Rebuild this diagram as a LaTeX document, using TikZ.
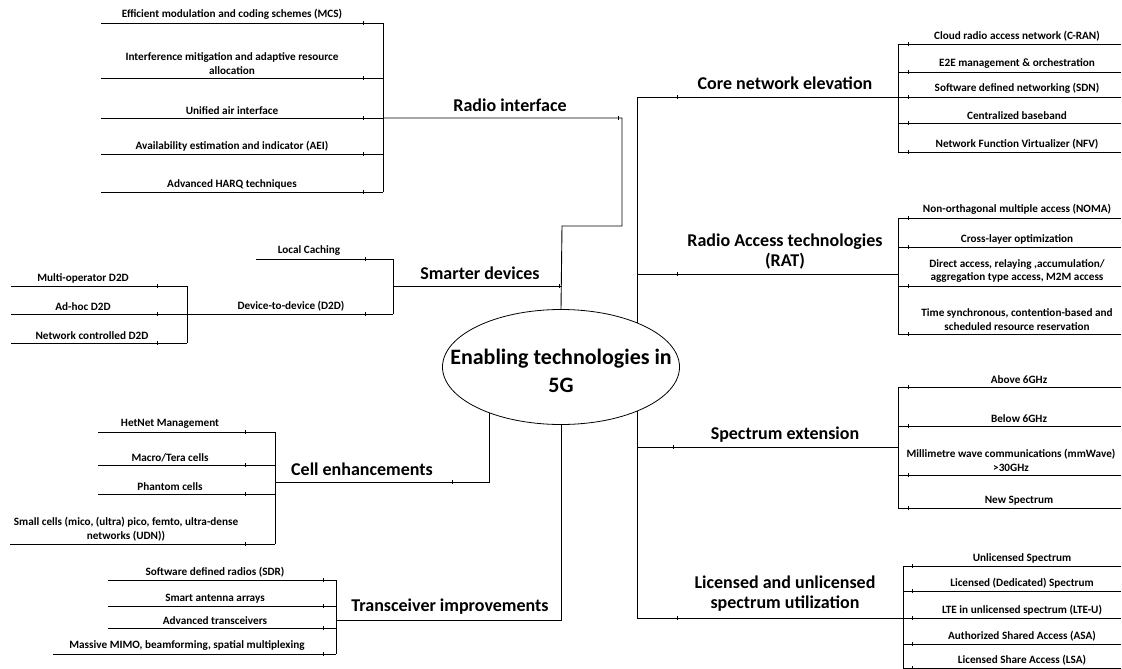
\documentclass[tikz,border=0pt]{standalone}
\usepackage{fontspec}
\setmainfont{Carlito}
\usetikzlibrary{shapes.geometric,decorations.markings,backgrounds}

\tikzset{
  wire/.style={draw=black, line width=0.9pt},
  tk/.style={postaction={decorate,decoration={markings,
      mark=at position #1 with {\draw[line width=0.8pt] (0,-1.7pt) -- (0,1.7pt);}}}},
  leaf/.style={font=\fontsize{11.2}{13.8}\selectfont\bfseries, align=center,
      anchor=south, inner sep=0pt},
  cat/.style={font=\fontsize{18}{20}\selectfont\bfseries, align=center, inner sep=0pt},
  hub/.style={ellipse, draw, line width=0.8pt, fill=white,
      minimum width=237pt, minimum height=115pt, inner sep=0pt},
  hubtxt/.style={font=\fontsize{22}{28}\selectfont\bfseries, align=center, inner sep=0pt}
}

\begin{document}
\begin{tikzpicture}[x=1pt,y=-1pt]
\useasboundingbox (0,0) rectangle (1122,669);

% central ellipse
\node[hub] (hub) at (561,367) {};
\node[hubtxt] (hubt) at (561,371) {Enabling technologies in\\5G};

% ---------- left side: radio interface ----------
\node[cat] (rad) at (510,105) {Radio interface};
\foreach \i/\y/\t in {
  1/23/{Efficient modulation and coding schemes (MCS)},
  2/78/{Interference mitigation and adaptive resource\\allocation},
  3/118/{Unified air interface},
  4/154/{Availability estimation and indicator (AEI)},
  5/192/{Advanced HARQ techniques}} {
  \coordinate (riL\i) at (101,\y);
  \coordinate (riB\i) at (383,\y);
  \node[leaf] (ri\i) at (232,\y-3) {\t};
}
\coordinate (riJ) at (622,118);
\coordinate (riK) at (622,226);
\coordinate (riM) at (562,226);

% ---------- smarter devices ----------
\node[cat] (sma) at (480,273) {Smarter devices};
\coordinate (smB) at (393,286);
\coordinate (smJ) at (562,286);
\coordinate (lcL) at (256,259);
\coordinate (lcB) at (393,259);
\node[leaf] (lc) at (309,256) {Local Caching};
\coordinate (ddL) at (187,314);
\coordinate (ddB) at (393,314);
\node[leaf] (dd) at (291,311) {Device-to-device (D2D)};
\foreach \i/\y/\x/\t in {
  1/286/83/{Multi-operator D2D},
  2/314/83/{Ad-hoc D2D},
  3/343/92/{Network controlled D2D}} {
  \coordinate (dsL\i) at (11,\y);
  \coordinate (dsB\i) at (187,\y);
  \node[leaf] (ds\i) at (\x,\y-3) {\t};
}

% ---------- cell enhancements ----------
\node[cat] (cel) at (362,469) {Cell enhancements};
\coordinate (ceU) at (489,395);
\coordinate (ceJ) at (489,482);
\coordinate (ceB) at (275,482);
\foreach \i/\y/\l/\x/\t in {
  1/432/98/170/{HetNet Management},
  2/465/98/170/{Macro/Tera cells},
  3/494/98/170/{Phantom cells},
  4/544/10/126/{Small cells (mico, (ultra) pico, femto, ultra-dense\\networks (UDN))}} {
  \coordinate (ceL\i) at (\l,\y);
  \coordinate (ceB\i) at (275,\y);
  \node[leaf] (ce\i) at (\x,\y-3) {\t};
}

% ---------- transceiver improvements ----------
\node[cat] (tra) at (450,607) {Transceiver improvements};
\coordinate (trJ) at (561,620);
\coordinate (trB) at (336,620);
\foreach \i/\y/\l/\x/\t in {
  1/580/108/215/{Software defined radios (SDR)},
  2/606/108/215/{Smart antenna arrays},
  3/628/108/215/{Advanced transceivers},
  4/654/53/187/{Massive MIMO, beamforming, spatial multiplexing}} {
  \coordinate (tiL\i) at (\l,\y);
  \coordinate (tiB\i) at (336,\y);
  \node[leaf] (ti\i) at (\x,\y-3) {\t};
}

% ---------- right side ----------
\coordinate (tkT) at (637,97);
\coordinate (tkS) at (637,447);
\coordinate (tkR) at (637,274);
\coordinate (tkB) at (637,618);

% core network elevation
\node[cat] (cor) at (785,83) {Core network elevation};
\coordinate (coB) at (898,97);
\foreach \i/\y/\t in {
  1/44/{Cloud radio access network (C-RAN)},
  2/72/{E2E management \& orchestration},
  3/97/{Software defined networking (SDN)},
  4/123/{Centralized baseband},
  5/152/{Network Function Virtualizer (NFV)}} {
  \coordinate (coL\i) at (898,\y);
  \coordinate (coR\i) at (1121,\y);
  \node[leaf] (co\i) at (1017,\y-3) {\t};
}

% radio access technologies
\node[cat] (rat) at (785,252) {Radio Access technologies\\(RAT)};
\coordinate (raB) at (898,274);
\foreach \i/\y/\t in {
  1/218/{Non-orthagonal multiple access (NOMA)},
  2/247/{Cross-layer optimization},
  3/286/{Direct access, relaying ,accumulation/\\aggregation type access, M2M access},
  4/334/{Time synchronous, contention-based and\\scheduled resource reservation}} {
  \coordinate (raL\i) at (898,\y);
  \coordinate (raR\i) at (1121,\y);
  \node[leaf] (ra\i) at (1017,\y-3) {\t};
}

% spectrum extension
\node[cat] (spe) at (785,435) {Spectrum extension};
\coordinate (spB) at (898,447);
\foreach \i/\y/\x/\t in {
  1/387/1019/{Above 6GHz},
  2/426/1019/{Below 6GHz},
  3/475/1011/{Millimetre wave communications (mmWave)\\>30GHz},
  4/508/1019/{New Spectrum}} {
  \coordinate (spL\i) at (898,\y);
  \coordinate (spR\i) at (1121,\y);
  \node[leaf] (sp\i) at (\x,\y-3) {\t};
}

% licensed and unlicensed spectrum utilization
\node[cat] (lic) at (785,594) {Licensed and unlicensed\\spectrum utilization};
\coordinate (liB) at (903,618);
\foreach \i/\y/\t in {
  1/566/{Unlicensed Spectrum},
  2/591/{Licensed (Dedicated) Spectrum},
  3/618/{LTE in unlicensed spectrum (LTE-U)},
  4/644/{Authorized Shared Access (ASA)},
  5/668/{Licensed Share Access (LSA)}} {
  \coordinate (liL\i) at (903,\y);
  \coordinate (liR\i) at (1121,\y);
  \node[leaf] (li\i) at (1022,\y-3) {\t};
}

% ---------- connectors (behind the ellipse) ----------
\begin{pgfonlayer}{background}
  % radio interface
  \foreach \i in {1,...,5} \draw[wire,tk=-20pt] (riL\i) -- (riB\i);
  \draw[wire] (riB1) -- (riB5);
  \draw[wire,tk=235pt] (riB3) -- (riJ) -- (riK) -- (riM) -- (hub.north);
  % smarter devices
  \draw[wire,tk=-28pt] (lcL) -- (lcB);
  \draw[wire,tk=-28pt] (ddL) -- (ddB);
  \draw[wire] (lcB) -- (ddB);
  \draw[wire,tk=-3pt] (smB) -- (smJ);
  \foreach \i in {1,2,3} \draw[wire,tk=-30pt] (dsL\i) -- (dsB\i);
  \draw[wire] (dsB1) -- (dsB3);
  % cell enhancements
  \draw[wire,tk=124pt] (ceU) -- (ceJ) -- (ceB);
  \foreach \i in {1,...,4} \draw[wire,tk=-30pt] (ceL\i) -- (ceB\i);
  \draw[wire] (ceB1) -- (ceB4);
  % transceiver improvements
  \draw[wire] (hub.south) -- (trJ) -- (trB);
  \foreach \i in {1,...,4} \draw[wire,tk=-13pt] (tiL\i) -- (tiB\i);
  \draw[wire] (tiB1) -- (tiB4);
  % right trunk and its branches
  \draw[wire] (tkT) -- (tkB);
  \draw[wire,tk=40pt] (tkT) -- (coB);
  \draw[wire,tk=40pt] (tkR) -- (raB);
  \draw[wire,tk=36pt] (tkS) -- (spB);
  \draw[wire,tk=40pt] (tkB) -- (liB);
  \foreach \i in {1,...,5} \draw[wire,tk=10pt] (coL\i) -- (coR\i);
  \draw[wire] (coL1) -- (coL5);
  \foreach \i in {1,...,4} \draw[wire,tk=10pt] (raL\i) -- (raR\i);
  \draw[wire] (raL1) -- (raL4);
  \foreach \i in {1,...,4} \draw[wire,tk=10pt] (spL\i) -- (spR\i);
  \draw[wire] (spL1) -- (spL4);
  \foreach \i in {1,...,5} \draw[wire,tk=9pt] (liL\i) -- (liR\i);
  \draw[wire] (liL1) -- (liL5);
\end{pgfonlayer}
\end{tikzpicture}
\end{document}
